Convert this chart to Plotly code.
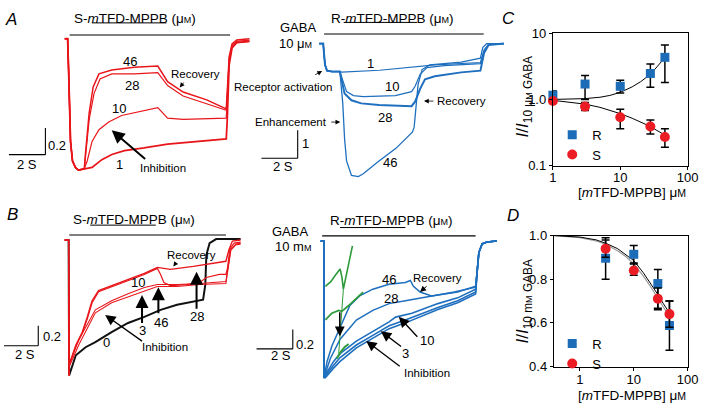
import plotly.graph_objects as go

W, H = 713, 406
FONT = "Liberation Sans, Arial, sans-serif"
RED = "#e8161b"
BLUE = "#1f6fbf"
GREEN = "#2f9a3c"
MRED = "#ec1c24"
MBLUE = "#1d6cb8"

# ---------------- Panel A, S-enantiomer (time s, normalised current) ----------------
a_s_onset_t = [0, 0.16, 0.22, 0.27, 0.32, 0.43, 0.59, 0.76, 1.08]
a_s_onset_i = [0, 0, -0.27, -0.57, -0.79, -0.94, -0.99, -1.01, -1.0]
a_s1_t = [1.51, 2.05, 2.6, 3.3, 4.38, 5.68, 7.46, 8.92, 8.97, 9.08, 9.24, 9.5, 10.2]
a_s1_i = [-0.99, -0.93, -0.89, -0.86, -0.84, -0.81, -0.79, -0.77, -0.64, -0.2, -0.07, -0.03, -0.02]
a_s10_t = [1.24, 1.51, 1.89, 2.43, 3.14, 4.22, 5.14, 5.68, 6.54, 8.92, 8.97, 9.08, 9.24, 9.5, 10.2]
a_s10_i = [-0.94, -0.79, -0.70, -0.64, -0.59, -0.56, -0.53, -0.61, -0.62, -0.61, -0.5, -0.18, -0.06, -0.03, -0.02]
a_s28_t = [1.14, 1.35, 1.62, 1.95, 2.6, 3.84, 5.14, 5.68, 6.54, 7.84, 8.92, 8.97, 9.08, 9.24, 9.5, 10.2]
a_s28_i = [-0.92, -0.62, -0.42, -0.31, -0.27, -0.27, -0.26, -0.36, -0.44, -0.5, -0.55, -0.45, -0.15, -0.05, -0.02, -0.01]
a_s46_t = [1.14, 1.35, 1.57, 1.89, 2.6, 3.84, 5.14, 5.68, 6.54, 7.84, 8.92, 8.97, 9.08, 9.24, 9.5, 10.2]
a_s46_i = [-0.89, -0.57, -0.37, -0.27, -0.24, -0.22, -0.21, -0.33, -0.41, -0.47, -0.54, -0.44, -0.14, -0.04, -0.01, 0.0]

# ---------------- Panel A, R-enantiomer (time s, current relative to 10 uM GABA) ----------------
a_r_onset_t = [0, 0.22, 0.27, 0.32, 0.43, 0.7, 1.14]
a_r_onset_i = [0, 0, -0.4, -0.76, -0.97, -1.0, -1.0]
a_r1_t = [1.24, 3.34, 5.3, 6.4, 8.9, 9.1, 9.35, 10.2]
a_r1_i = [-1.02, -0.955, -0.82, -0.76, -0.68, -0.24, -0.03, 0]
a_r10_t = [1.51, 1.89, 2.43, 4.2, 5.1, 5.3, 5.57, 5.95, 6.9, 8.9, 9.1, 9.35, 10.2]
a_r10_i = [-1.72, -1.86, -1.9, -1.86, -1.72, -1.52, -1.1, -0.86, -0.79, -0.72, -0.24, -0.03, 0]
a_r28_t = [1.4, 1.78, 2.32, 3.3, 5.1, 5.3, 5.57, 5.84, 6.38, 7.84, 8.9, 9.1, 9.35, 10.2]
a_r28_i = [-1.79, -2.03, -2.14, -2.2, -2.24, -2.07, -1.62, -1.28, -1.17, -1.03, -0.97, -0.34, -0.05, 0]
a_r46_t = [1.3, 1.4, 1.51, 1.78, 2.16, 2.43, 3.3, 4.22, 5.14, 5.24, 5.35, 5.46, 5.68, 6.1, 7.84, 8.9, 9.03, 9.24, 10.2]
a_r46_i = [-2.14, -3.41, -4.2, -4.72, -4.76, -4.66, -4.2, -3.76, -3.17, -3.0, -2.24, -1.45, -0.93, -0.76, -0.66, -0.52, -0.14, 0, 0]

# ---------------- Panel B, S-enantiomer ----------------
b_s_onset_t = [-0.23, 0, 0.03]
b_s_onset_i = [0, 0, -1.34]
b_s46_t = [0.04, 0.42, 0.8, 1.09, 1.37, 1.75, 2.51, 3.47, 4.42, 5.18, 5.94, 7.28, 8.04, 9.18, 9.37, 9.56, 10.04]
b_s46_i = [-1.23, -1.04, -0.91, -0.76, -0.60, -0.50, -0.45, -0.39, -0.33, -0.27, -0.29, -0.26, -0.24, -0.21, -0.09, -0.01, 0]
b_s28_t = [0.04, 0.42, 0.8, 1.09, 1.37, 1.75, 2.51, 3.47, 4.42, 5.18, 5.37, 5.56, 5.94, 6.9, 7.66, 8.04, 8.8, 9.18, 9.27, 9.41, 9.66, 10.04]
b_s28_i = [-1.23, -1.05, -0.92, -0.78, -0.62, -0.51, -0.46, -0.40, -0.34, -0.28, -0.34, -0.42, -0.45, -0.44, -0.42, -0.37, -0.34, -0.34, -0.28, -0.09, -0.03, -0.02]
b_s10_t = [0.04, 0.61, 1.56, 2.51, 3.47, 4.42, 5.18, 6.33, 7.66, 9.18, 9.31, 9.47, 9.77, 10.04]
b_s10_i = [-1.23, -0.98, -0.69, -0.60, -0.53, -0.47, -0.44, -0.44, -0.43, -0.41, -0.28, -0.09, -0.04, -0.03]
b_s3_t = [0.04, 0.61, 1.56, 2.51, 3.47, 4.42, 5.18, 6.33, 7.66, 9.18, 9.31, 9.47, 9.77, 10.04]
b_s3_i = [-1.25, -1.03, -0.72, -0.62, -0.56, -0.50, -0.46, -0.46, -0.44, -0.43, -0.30, -0.10, -0.045, -0.04]
b_s0_t = [0.42, 0.99, 1.56, 2.51, 3.47, 4.42, 5.37, 6.33, 7.28, 7.85, 7.98, 8.04, 8.23, 8.61, 10.04]
b_s0_i = [-1.14, -1.06, -1.01, -0.91, -0.82, -0.76, -0.69, -0.64, -0.61, -0.59, -0.44, -0.15, -0.03, 0.01, 0.01]

# ---------------- Panel B, R-enantiomer ----------------
b_r_onset_t = [-0.19, 0, 0.01]
b_r_onset_i = [0, 0, -1.42]
b_r_end_t = [8.95, 9.05, 9.24, 9.52, 10.1]
b_r_end_i = [-0.32, -0.12, -0.03, -0.01, 0]
b_r46_t = [0.19, 0.47, 0.76, 1.14, 1.52, 2.09, 2.86, 3.81, 4.76, 5.05, 5.23, 5.62, 6.29, 7.05, 7.81, 8.86]
b_r46_i = [-1.25, -1.09, -0.97, -0.82, -0.67, -0.57, -0.50, -0.45, -0.43, -0.41, -0.47, -0.53, -0.57, -0.55, -0.53, -0.47]
b_r28_t = [0.38, 0.95, 1.9, 2.86, 3.81, 4.76, 5.71, 6.66, 7.62, 8.86]
b_r28_i = [-1.22, -1.02, -0.82, -0.72, -0.65, -0.62, -0.59, -0.56, -0.53, -0.48]
b_r10_t = [0.09, 0.57, 0.95, 1.9, 2.86, 3.81, 4.19, 5.14, 6.66, 7.81, 8.86]
b_r10_i = [-1.39, -1.25, -1.17, -1.04, -0.94, -0.84, -0.79, -0.75, -0.65, -0.59, -0.50]
b_r3_t = [0.09, 0.57, 0.95, 1.9, 2.86, 3.81, 4.76, 6.66, 7.81, 8.86]
b_r3_i = [-1.40, -1.29, -1.21, -1.08, -0.98, -0.88, -0.82, -0.69, -0.62, -0.53]
b_r0_t = [0.09, 0.57, 0.95, 1.9, 2.86, 3.81, 4.76, 6.66, 7.81, 8.86]
b_r0_i = [-1.42, -1.32, -1.25, -1.11, -1.01, -0.91, -0.85, -0.71, -0.64, -0.55]
green_up_t = [0.09, 0.42, 0.65, 0.95, 1.05, 1.14, 1.67]
green_up_i = [-0.47, -0.42, -0.36, -0.29, -0.37, -0.50, -0.05]
green_low_t = [0.09, 0.47, 0.87, 1.05, 1.45, 1.9, 2.29]
green_low_i = [-0.82, -0.75, -0.72, -0.73, -0.67, -0.60, -0.53]
green_bot_t = [0.76, 0.99, 1.22, 1.45]
green_bot_i = [-1.22, -1.15, -1.10, -1.07]
green_link_t = [0.87, 1.14]
green_link_i = [-1.17, -0.50]

# ---------------- Panel C ----------------
conc_c = [1, 3, 10, 28, 46]
c_r = [1.16, 1.71, 1.58, 2.47, 4.33]
c_r_plus = [0.18, 0.6, 0.37, 0.95, 2.35]
c_r_minus = [0.17, 0.71, 0.33, 0.94, 2.52]
c_s = [0.95, 0.78, 0.54, 0.39, 0.27]
c_s_plus = [0, 0.12, 0.17, 0.10, 0.09]
c_s_minus = [0, 0.10, 0.18, 0.09, 0.08]
c_fit_x = [1, 2, 3, 5, 7, 10, 15, 20, 28, 35, 46]
c_fit_r = [1.0, 1.01, 1.03, 1.08, 1.15, 1.28, 1.55, 1.85, 2.4, 3.1, 4.3]
c_fit_s = [0.97, 0.9, 0.85, 0.76, 0.69, 0.61, 0.52, 0.46, 0.39, 0.34, 0.29]

# ---------------- Panel D ----------------
conc_d = [3, 10, 28, 46]
d_r = [0.896, 0.914, 0.78, 0.588]
d_r_plus = [0.094, 0.04, 0.064, 0.112]
d_r_minus = [0.096, 0.04, 0.113, 0.114]
d_s = [0.94, 0.84, 0.71, 0.64]
d_s_plus = [0.04, 0.03, 0.05, 0.06]
d_s_minus = [0.04, 0.022, 0.05, 0.06]
d_fit_x = [0.33, 0.5, 1, 2, 3, 5, 7, 10, 15, 20, 28, 35, 46]
d_fit_r = [1.0, 0.998, 0.993, 0.98, 0.965, 0.94, 0.915, 0.885, 0.83, 0.785, 0.73, 0.69, 0.645]
d_fit_s = [0.999, 0.996, 0.99, 0.975, 0.96, 0.93, 0.905, 0.87, 0.815, 0.77, 0.715, 0.675, 0.628]


def fx(p):
    return p / W


def fy(p):
    return 1 - p / H


fig = go.Figure()
shapes = []
annots = []


def hline(x0, y0, x1, y1, width=1.1, color="black"):
    shapes.append(dict(type="line", xref="paper", yref="paper", x0=fx(x0), y0=fy(y0),
                       x1=fx(x1), y1=fy(y1), line=dict(color=color, width=width)))


def txt(x, y, s, size=13, xanchor="center", angle=0, color="black"):
    annots.append(dict(xref="paper", yref="paper", x=fx(x), y=fy(y), text=s, showarrow=False,
                       xanchor=xanchor, yanchor="middle", textangle=angle,
                       font=dict(size=size, family=FONT, color=color)))


def arrow(xt, yt, xh, yh, width=2.0, size=1.3):
    annots.append(dict(xref="paper", yref="paper", x=fx(xh), y=fy(yh), ax=xt - xh, ay=yt - yh,
                       text=" ", font=dict(size=1), showarrow=True, arrowhead=2, arrowsize=size,
                       arrowwidth=width, arrowcolor="black", standoff=0, startstandoff=0))


def trace(tx, ti, ax, color, width=1.3):
    fig.add_trace(go.Scatter(x=tx, y=ti, xaxis=ax[0], yaxis=ax[1], mode="lines",
                             line=dict(color=color, width=width), showlegend=False,
                             hoverinfo="skip"))


AX_AS = ("x", "y")
AX_AR = ("x2", "y2")
AX_BS = ("x4", "y4")
AX_BR = ("x5", "y5")

# Panel A S traces
for tt, ii, w in [(a_s1_t, a_s1_i, 1.8), (a_s10_t, a_s10_i, 1.2), (a_s28_t, a_s28_i, 1.2), (a_s46_t, a_s46_i, 1.5)]:
    trace(a_s_onset_t + tt, a_s_onset_i + ii, AX_AS, RED, w)

# Panel A R traces
for tt, ii, w in [(a_r1_t, a_r1_i, 1.1), (a_r10_t, a_r10_i, 1.2), (a_r28_t, a_r28_i, 2.0), (a_r46_t, a_r46_i, 1.3)]:
    trace(a_r_onset_t + tt, a_r_onset_i + ii, AX_AR, BLUE, w)

# Panel B S traces
trace(b_s_onset_t + b_s0_t, b_s_onset_i + b_s0_i, AX_BS, "#111111", 2.0)
for tt, ii, w in [(b_s3_t, b_s3_i, 1.1), (b_s10_t, b_s10_i, 1.1), (b_s28_t, b_s28_i, 1.2), (b_s46_t, b_s46_i, 1.4)]:
    trace(b_s_onset_t + tt, b_s_onset_i + ii, AX_BS, RED, w)

# Panel B R traces
for tt, ii, w in [(b_r0_t, b_r0_i, 1.6), (b_r3_t, b_r3_i, 1.6), (b_r10_t, b_r10_i, 1.6), (b_r28_t, b_r28_i, 1.5), (b_r46_t, b_r46_i, 1.5)]:
    trace(b_r_onset_t + tt + b_r_end_t, b_r_onset_i + ii + b_r_end_i, AX_BR, BLUE, w)
trace(green_up_t, green_up_i, AX_BR, GREEN, 1.6)
trace(green_low_t, green_low_i, AX_BR, GREEN, 1.8)
trace(green_bot_t, green_bot_i, AX_BR, GREEN, 2.0)
trace(green_link_t, green_link_i, AX_BR, GREEN, 1.0)

# Panel C
fig.add_trace(go.Scatter(x=c_fit_x, y=c_fit_r, xaxis="x3", yaxis="y3", mode="lines",
                         line=dict(color="black", width=1), showlegend=False, hoverinfo="skip"))
fig.add_trace(go.Scatter(x=c_fit_x, y=c_fit_s, xaxis="x3", yaxis="y3", mode="lines",
                         line=dict(color="black", width=1), showlegend=False, hoverinfo="skip"))
fig.add_trace(go.Scatter(x=conc_c, y=c_r, xaxis="x3", yaxis="y3", mode="markers", name="R",
                         marker=dict(symbol="square", size=9, color=MBLUE),
                         error_y=dict(type="data", symmetric=False, array=c_r_plus, arrayminus=c_r_minus,
                                      color="black", thickness=1.5, width=4),
                         cliponaxis=False, legend="legend"))
fig.add_trace(go.Scatter(x=conc_c, y=c_s, xaxis="x3", yaxis="y3", mode="markers", name="S",
                         marker=dict(symbol="circle", size=10, color=MRED),
                         error_y=dict(type="data", symmetric=False, array=c_s_plus, arrayminus=c_s_minus,
                                      color="black", thickness=1.5, width=4),
                         cliponaxis=False, legend="legend"))

# Panel D
fig.add_trace(go.Scatter(x=d_fit_x, y=d_fit_s, xaxis="x6", yaxis="y6", mode="lines",
                         line=dict(color="#9a9a9a", width=1.2), showlegend=False, hoverinfo="skip"))
fig.add_trace(go.Scatter(x=d_fit_x, y=d_fit_r, xaxis="x6", yaxis="y6", mode="lines",
                         line=dict(color="black", width=1), showlegend=False, hoverinfo="skip"))
fig.add_trace(go.Scatter(x=conc_d, y=d_r, xaxis="x6", yaxis="y6", mode="markers", name="R",
                         marker=dict(symbol="square", size=9, color=MBLUE),
                         error_y=dict(type="data", symmetric=False, array=d_r_plus, arrayminus=d_r_minus,
                                      color="black", thickness=1.5, width=4),
                         cliponaxis=False, legend="legend2"))
fig.add_trace(go.Scatter(x=conc_d, y=d_s, xaxis="x6", yaxis="y6", mode="markers", name="S",
                         marker=dict(symbol="circle", size=10, color=MRED),
                         error_y=dict(type="data", symmetric=False, array=d_s_plus, arrayminus=d_s_minus,
                                      color="black", thickness=1.5, width=4),
                         cliponaxis=False, legend="legend2"))

# ---------------- decorations ----------------
SM = "<span style='font-size:9px'>M</span>"
# Panel A left
txt(7, 13, "<i>A</i>", 17)
txt(134, 12, "S-<i>m</i>TFD-MPPB (μ" + SM + ")", 13.5)
hline(90, 16.5, 166, 16.5, 1)
hline(67, 29, 231, 29, 1.1)
hline(42.3, 125.7, 42.3, 153.3)
hline(5, 153.3, 42.3, 153.3)
txt(54, 143.3, "0.2", 13)
txt(24, 164, "2 S", 13)
txt(129, 57, "46", 13)
txt(131, 82, "28", 13)
txt(117, 105, "10", 13)
txt(118, 164, "1", 13)
txt(196, 70, "Recovery", 11.5)
arrow(185, 76.7, 179.5, 83.5, 0.8, 1.2)
txt(162.5, 167, "Inhibition", 11.5)
arrow(145, 158, 110, 128, 2.0, 1.3)

# Panel A right
txt(397, 12, "R-<i>m</i>TFD-MPPB (μ" + SM + ")", 13.5)
hline(347, 16, 422, 16, 1)
hline(327, 28, 490, 28, 1.1)
txt(300, 21, "GABA", 13)
txt(317, 38, "10 μ" + SM, 13, xanchor="right")
hline(300, 128, 300, 157)
hline(263, 157, 300, 157)
txt(308, 142, "1", 13)
txt(285, 166, "2 S", 13)
txt(374, 58.5, "1", 13)
txt(396.7, 82.5, "10", 13)
txt(389.3, 114.5, "28", 13)
txt(394.5, 161.7, "46", 13)
txt(284.7, 83.3, "Receptor activation", 11.5)
arrow(316.5, 71, 325, 66.5, 0.8, 1.2)
txt(293.3, 119, "Enhancement", 11.5)
arrow(333, 119.5, 343.5, 119.5, 0.8, 1.2)
txt(467.5, 97.7, "Recovery", 11.5)
arrow(440, 97.7, 429, 97.7, 0.8, 1.2)

# Panel B left
txt(8.3, 215, "<i>B</i>", 17)
txt(132.5, 220.5, "S-<i>m</i>TFD-MPPB (μ" + SM + ")", 13.5)
hline(88, 226.5, 155, 226.5, 1)
hline(66.7, 236.7, 226.7, 236.7, 1.1)
hline(35, 331, 35, 351.7)
hline(0, 351.7, 35, 351.7)
txt(49.5, 341.7, "0.2", 13)
txt(21.7, 360.7, "2 S", 13)
txt(136.7, 286.3, "10", 13)
txt(141, 336, "3", 13)
txt(160, 328, "46", 13)
txt(196.7, 321.3, "28", 13)
txt(105, 348, "0", 13)
txt(164, 353, "Inhibition", 11.5)
txt(191.7, 257.3, "Recovery", 11.5)
arrow(141, 329, 141, 299, 2.0, 1.3)
arrow(157.7, 319, 157.7, 291, 2.0, 1.3)
arrow(196.7, 314, 196.7, 275, 2.0, 1.3)
arrow(141.7, 347, 103.3, 319.7, 1.3, 1.6)
arrow(177, 264, 173, 269.5, 0.8, 1.2)

# Panel B right
txt(396, 221.7, "R-<i>m</i>TFD-MPPB (μ" + SM + ")", 13.5)
hline(343.3, 229, 410, 229, 1)
hline(325, 237.7, 481.7, 237.7, 1.1)
txt(291.7, 233, "GABA", 13)
txt(316, 248.3, "10 m" + SM, 13, xanchor="right")
hline(295, 335, 295, 355)
hline(258, 355, 295, 355)
txt(307.5, 350, "0.2", 13)
txt(283, 361.7, "2 S", 13)
txt(393.3, 283.3, "46", 13)
txt(395, 302.3, "28", 13)
txt(443.3, 281.7, "Recovery", 11.5)
arrow(433, 289, 425, 296, 1.0, 1.2)
txt(431.7, 346.7, "10", 13)
arrow(423.3, 343.3, 403.3, 321.7, 1.3, 1.6)
txt(410, 360, "3", 13)
arrow(406.7, 353, 385, 336.7, 1.3, 1.6)
txt(431.7, 380, "Inhibition", 11.5)
arrow(405, 373.3, 370, 346.7, 1.3, 1.6)
arrow(343, 316, 343, 342, 1.5, 1.3)

# Panel C / D labels
txt(515, 12, "<i>C</i>", 17)
txt(520, 217, "<i>D</i>", 17)
txt(531, 93, "<i>I</i>/<i>I</i><sub>10 μ" + SM + " GABA</sub>", 17, angle=-90)
txt(531, 305, "<i>I</i>/<i>I</i><sub>10 m" + SM + " GABA</sub>", 17, angle=-90)
SMX = "<span style='font-size:10.5px'>M</span>"
txt(641, 193, "[<i>m</i>TFD-MPPB] μ" + SMX, 13.5)
txt(641, 403.5, "[<i>m</i>TFD-MPPB] μ" + SMX, 13.5)

hidden = dict(visible=False, fixedrange=True)
box = dict(showline=True, mirror=True, linecolor="black", linewidth=1.2, ticks="outside",
           ticklen=3, tickwidth=1, tickcolor="black", showgrid=False, zeroline=False,
           tickfont=dict(size=13, family=FONT, color="black"), fixedrange=True)

fig.update_layout(
    width=W, height=H, margin=dict(l=0, r=0, t=0, b=0),
    paper_bgcolor="white", plot_bgcolor="rgba(0,0,0,0)",
    font=dict(family=FONT, color="black"),
    shapes=shapes, annotations=annots, hovermode=False,
    xaxis=dict(domain=[fx(55), fx(252)], range=[-0.38, 10.27], anchor="y", **hidden),
    yaxis=dict(domain=[fy(180), fy(20)], range=[-1.089, 0.096], anchor="x", **hidden),
    xaxis2=dict(domain=[fx(300), fx(515)], range=[-1.189, 10.432], anchor="y2", **hidden),
    yaxis2=dict(domain=[fy(185), fy(20)], range=[-5.069, 0.621], anchor="x2", **hidden),
    xaxis3=dict(domain=[fx(560.7), fx(698.3)], type="log", range=[0, 2], anchor="y3",
                tickvals=[1, 10, 100], ticktext=["1", "10", "100"], ticklabelstandoff=-3, **box),
    yaxis3=dict(domain=[fy(164.7), fy(27.3)], type="log", range=[-1, 1], anchor="x3",
                tickvals=[0.1, 1, 10], ticktext=["0.1", "1.0", "10"], **box),
    xaxis4=dict(domain=[fx(55), fx(252)], range=[-0.629, 10.629], anchor="y4", **hidden),
    yaxis4=dict(domain=[fy(392), fy(225)], range=[-1.429, 0.162], anchor="x4", **hidden),
    xaxis5=dict(domain=[fx(315), fx(512)], range=[-0.669, 10.589], anchor="y5", **hidden),
    yaxis5=dict(domain=[fy(392), fy(225)], range=[-1.49, 0.18], anchor="x5", **hidden),
    xaxis6=dict(domain=[fx(561.7), fx(698.3)], type="log", range=[-0.484, 2], anchor="y6",
                tickvals=[1, 10, 100], ticktext=["1", "10", "100"], ticklabelstandoff=-2, **box),
    yaxis6=dict(domain=[fy(373.3), fy(237.3)], range=[0.4, 1.0], anchor="x6",
                tickvals=[0.4, 0.6, 0.8, 1.0], ticktext=["0.4", "0.6", "0.8", "1.0"], **box),
    legend=dict(x=fx(560), y=fy(117), xanchor="left", yanchor="top", bgcolor="rgba(0,0,0,0)",
                font=dict(size=13, family=FONT), itemwidth=30, tracegroupgap=0),
    legend2=dict(x=fx(560), y=fy(334), xanchor="left", yanchor="top", bgcolor="rgba(0,0,0,0)",
                 font=dict(size=13, family=FONT), itemwidth=30, tracegroupgap=0),
)

PS = ("document.documentElement.style.margin='0';document.documentElement.style.overflow='hidden';"
      "document.body.style.margin='0';document.body.style.overflow='hidden';"
      "var g=document.getElementsByClassName('plotly-graph-div')[0];"
      "g.style.position='fixed';g.style.left='0px';g.style.top='0px';")
fig.write_html("out.html", config={"displayModeBar": False}, post_script=PS)
